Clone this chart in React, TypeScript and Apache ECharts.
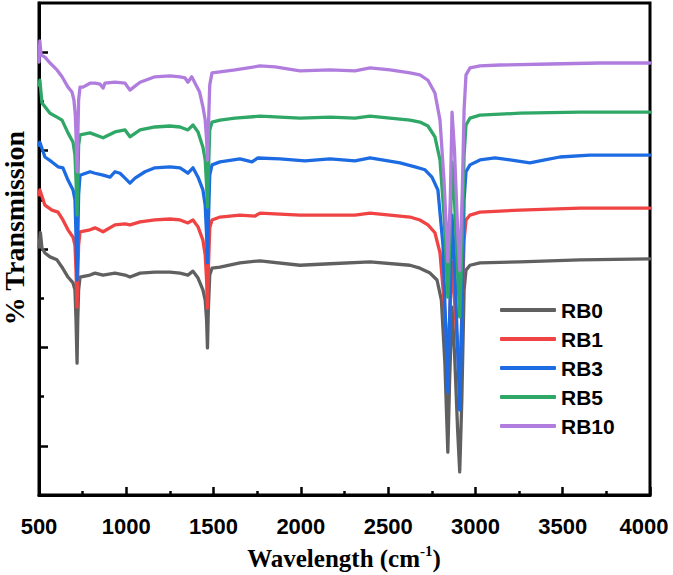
import React, { useEffect, useRef } from "react";
import * as echarts from "echarts";

// wavenumber (cm-1), transmission (arbitrary offset units)
const rb0: [number, number][] = [
  [500, 50.4], [508, 53.3], [517, 50.2], [534, 49.2], [563, 48.4], [603, 47.8], [632, 46.3], [666, 44.3],
  [695, 43.1], [706, 41.7], [712, 35.6], [718, 26.8], [722, 35.6], [727, 41.7], [735, 44.3], [792, 44.7],
  [821, 45.1], [867, 44.7], [935, 45.1], [993, 44.7], [1021, 44.3], [1079, 45.1], [1164, 45.3], [1250, 45.3],
  [1308, 45.1], [1353, 44.7], [1382, 45.5], [1411, 44.1], [1439, 41.7], [1452, 39.6], [1460, 35.6], [1465, 29.9],
  [1470, 37.6], [1478, 44.7], [1491, 46.1], [1537, 46.3], [1651, 47.2], [1766, 47.6], [1995, 46.7], [2167, 47.0],
  [2396, 47.4], [2625, 46.7], [2682, 46.1], [2740, 45.1], [2780, 43.7], [2805, 39.6], [2825, 26.8], [2842, 8.7],
  [2852, 23.2], [2866, 38.2], [2880, 29.1], [2898, 13.2], [2910, 4.7], [2922, 19.3], [2935, 41.7], [2946, 45.7],
  [2969, 46.7], [3026, 47.2], [3255, 47.4], [3599, 47.8], [4000, 48.0],
];
const rb1: [number, number][] = [
  [500, 61.0], [505, 62.0], [534, 58.9], [574, 57.9], [609, 57.5], [637, 55.9], [666, 53.9], [695, 52.4],
  [706, 50.8], [712, 45.7], [718, 38.2], [722, 44.7], [727, 50.8], [735, 53.5], [792, 53.9], [821, 54.3],
  [867, 53.5], [935, 54.9], [993, 55.1], [1021, 54.9], [1079, 55.5], [1164, 55.9], [1250, 56.1], [1308, 55.9],
  [1353, 55.3], [1382, 55.9], [1411, 54.5], [1439, 51.8], [1452, 48.8], [1460, 43.7], [1465, 38.0], [1470, 45.7],
  [1478, 54.3], [1491, 55.9], [1537, 56.5], [1651, 56.9], [1737, 56.7], [1766, 57.3], [1995, 56.9], [2310, 56.9],
  [2396, 57.3], [2625, 56.5], [2682, 55.9], [2728, 54.9], [2768, 53.3], [2797, 49.2], [2820, 39.6], [2842, 27.2],
  [2856, 39.6], [2866, 47.4], [2880, 39.6], [2898, 29.5], [2910, 23.2], [2925, 39.6], [2935, 51.8], [2946, 55.9],
  [2969, 56.9], [3026, 57.5], [3255, 57.9], [3599, 58.3], [4000, 58.3],
];
const rb3: [number, number][] = [
  [500, 71.1], [505, 71.7], [534, 68.7], [574, 67.7], [609, 66.7], [637, 66.5], [666, 64.0], [695, 62.0],
  [706, 60.0], [712, 52.8], [718, 43.7], [722, 51.8], [727, 61.0], [735, 65.0], [792, 65.7], [821, 65.4],
  [867, 65.0], [907, 64.6], [935, 65.7], [964, 65.4], [993, 64.4], [1021, 63.4], [1050, 64.4], [1107, 65.7],
  [1164, 66.5], [1250, 66.7], [1308, 66.5], [1353, 65.4], [1382, 66.5], [1411, 64.6], [1439, 62.0], [1452, 58.9],
  [1460, 52.8], [1465, 47.2], [1470, 54.9], [1478, 65.0], [1491, 67.1], [1537, 67.7], [1651, 68.3], [1720, 67.7],
  [1754, 68.5], [1880, 68.3], [2024, 67.9], [2167, 68.3], [2310, 67.9], [2396, 68.5], [2568, 67.5], [2654, 66.7],
  [2711, 66.1], [2751, 64.6], [2785, 62.0], [2814, 50.8], [2842, 20.9], [2856, 40.7], [2866, 56.9], [2880, 48.0],
  [2898, 29.7], [2910, 17.3], [2925, 39.6], [2935, 60.0], [2946, 65.7], [2969, 67.1], [3026, 68.1], [3112, 68.5],
  [3198, 68.1], [3312, 67.5], [3398, 68.1], [3484, 68.7], [3656, 69.1], [4000, 69.1],
];
const rb5: [number, number][] = [
  [500, 83.3], [505, 84.3], [517, 79.7], [563, 77.6], [603, 76.8], [632, 76.2], [666, 73.6], [695, 71.7],
  [706, 69.1], [712, 64.0], [718, 56.9], [722, 63.0], [727, 71.1], [735, 73.2], [792, 73.6], [867, 72.6],
  [935, 73.8], [993, 74.2], [1021, 72.8], [1079, 74.2], [1164, 74.8], [1250, 75.0], [1308, 74.8], [1353, 74.2],
  [1382, 75.2], [1411, 73.8], [1439, 70.7], [1452, 68.1], [1460, 63.0], [1465, 58.5], [1470, 65.0], [1478, 74.2],
  [1491, 75.8], [1537, 76.2], [1623, 76.6], [1766, 77.0], [1995, 76.6], [2167, 76.8], [2310, 76.6], [2396, 77.0],
  [2625, 76.2], [2682, 75.8], [2728, 75.0], [2768, 72.8], [2797, 68.1], [2820, 56.9], [2842, 40.2], [2856, 53.9],
  [2866, 67.7], [2880, 60.0], [2898, 45.7], [2910, 36.2], [2925, 52.4], [2935, 69.1], [2946, 75.2], [2969, 76.6],
  [3026, 77.2], [3255, 77.6], [3599, 77.8], [4000, 77.8],
];
const rb10: [number, number][] = [
  [500, 88.0], [505, 92.3], [512, 89.4], [534, 89.0], [563, 87.8], [603, 86.4], [632, 85.0], [666, 82.9],
  [689, 81.9], [700, 80.3], [708, 77.2], [714, 71.1], [718, 65.7], [722, 72.2], [727, 80.3], [735, 82.9],
  [752, 82.9], [792, 83.7], [821, 83.7], [850, 83.5], [867, 82.7], [878, 83.7], [935, 83.9], [993, 83.7],
  [1021, 82.3], [1050, 83.1], [1079, 83.9], [1164, 85.0], [1250, 85.2], [1308, 85.0], [1336, 84.8], [1353, 83.9],
  [1375, 85.0], [1400, 83.3], [1420, 81.9], [1439, 78.9], [1452, 76.2], [1460, 72.2], [1465, 68.1], [1470, 74.2],
  [1478, 83.3], [1491, 85.8], [1537, 86.0], [1623, 86.4], [1766, 87.2], [1852, 87.0], [1995, 86.2], [2167, 86.4],
  [2310, 86.2], [2396, 86.8], [2511, 86.4], [2625, 85.8], [2682, 85.4], [2728, 84.3], [2768, 81.7], [2797, 76.2],
  [2820, 64.0], [2842, 47.4], [2856, 60.0], [2866, 77.8], [2880, 70.1], [2898, 53.9], [2910, 45.7], [2925, 62.0],
  [2935, 78.3], [2946, 85.4], [2969, 86.8], [3026, 87.2], [3141, 87.4], [3427, 87.6], [3713, 87.8], [4000, 87.8],
];

const seriesNames = ["RB0", "RB1", "RB3", "RB5", "RB10"];
const seriesData = [rb0, rb1, rb3, rb5, rb10];
const seriesColors = ["#606060", "#f04343", "#1d6be3", "#2fa767", "#b07ddf"];
const majorYTicks = [10, 30, 50, 70, 90];
const minorYTicks = [20, 40, 60, 80];

export default function App() {
  const ref = useRef<HTMLDivElement>(null);
  useEffect(() => {
    document.body.style.margin = "0";
    const chart = echarts.init(ref.current!, null, { renderer: "svg" });
    const serif = "'Liberation Serif', 'Times New Roman', serif";
    const sans = "'Liberation Sans', Arial, sans-serif";
    const lab = { fontFamily: sans, fontWeight: "bold", fontSize: 22, color: "#000" };
    chart.setOption({
      animation: false,
      backgroundColor: "#fff",
      grid: {
        left: 39, right: 23, top: 3, bottom: 80,
        containLabel: false, outerBoundsMode: "none",
        show: true, borderColor: "#000", borderWidth: 3, backgroundColor: "transparent",
      },
      legend: {
        orient: "vertical",
        left: 495,
        top: 294,
        icon: "roundRect",
        itemWidth: 56,
        itemHeight: 4,
        itemGap: 7,
        data: seriesNames,
        textStyle: { fontFamily: sans, fontWeight: "bold", fontSize: 21, color: "#000", lineHeight: 22 },
      },
      xAxis: {
        type: "value",
        min: 500,
        max: 4000,
        interval: 500,
        axisLine: { show: true, lineStyle: { color: "#000", width: 3 } },
        axisTick: { show: true, inside: true, length: 8, lineStyle: { color: "#000", width: 2.5 } },
        minorTick: { show: true, splitNumber: 2, length: 4, lineStyle: { color: "#000", width: 2.5 } },
        splitLine: { show: false },
        axisLabel: {
          show: true, margin: 20, showMinLabel: true, showMaxLabel: true,
          formatter: (v: number) => (v === 4000 ? "{m|" + v + "}" : String(v)),
          ...lab,
          rich: { m: { ...lab, padding: [0, 12, 0, 0] } },
        },
      },
      yAxis: [
        {
          type: "value",
          min: 0,
          max: 100,
          axisLine: { show: true, lineStyle: { color: "#000", width: 3 } },
          axisTick: { show: true, inside: true, length: 9, customValues: majorYTicks, lineStyle: { color: "#000", width: 2.5 } },
          axisLabel: { show: false },
          splitLine: { show: false },
        },
        {
          type: "value",
          min: 0,
          max: 100,
          position: "left",
          axisLine: { show: false },
          axisTick: { show: true, inside: true, length: 5, customValues: minorYTicks, lineStyle: { color: "#000", width: 2.5 } },
          axisLabel: { show: false },
          splitLine: { show: false },
        },
      ],
      graphic: [
        {
          type: "text",
          x: 344,
          y: 557,
          style: {
            text: "{a|Wavelength (cm}{s|-1}{a|)}",
            align: "center",
            verticalAlign: "middle",
            rich: {
              a: { fontFamily: serif, fontWeight: "bold", fontSize: 25, fill: "#000", lineHeight: 28, verticalAlign: "bottom" },
              s: { fontFamily: serif, fontWeight: "bold", fontSize: 15, fill: "#000", lineHeight: 28, verticalAlign: "top" },
            },
          },
        },
        {
          type: "text",
          x: 14,
          y: 228,
          rotation: Math.PI / 2,
          style: {
            text: "% Transmission",
            align: "center",
            verticalAlign: "middle",
            fontFamily: serif,
            fontWeight: "bold",
            fontSize: 28,
            fill: "#000",
          },
        },
      ],
      series: seriesNames.map((name, i) => ({
        name,
        type: "line",
        data: seriesData[i],
        yAxisIndex: 0,
        showSymbol: false,
        symbol: "none",
        color: seriesColors[i],
        lineStyle: { width: 3.3, color: seriesColors[i], join: "round", cap: "round" },
        silent: true,
      })),
    });
    return () => chart.dispose();
  }, []);
  return <div ref={ref} style={{ width: 673, height: 575 }} />;
}
